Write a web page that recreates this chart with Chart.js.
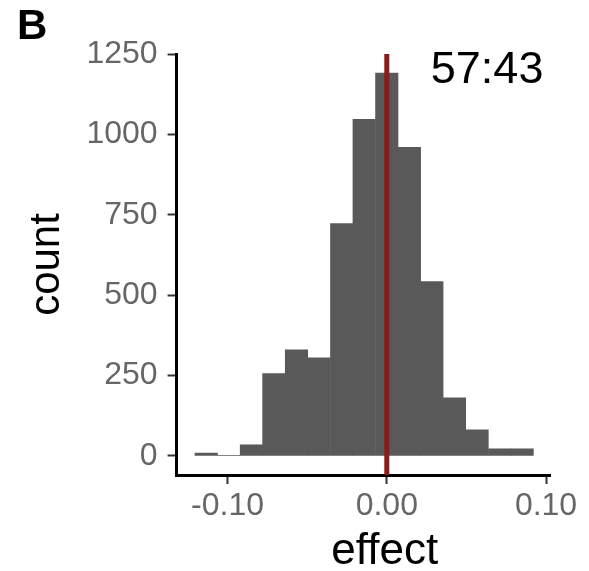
<!DOCTYPE html>
<html>
<head>
<meta charset="utf-8">
<script src="https://cdn.jsdelivr.net/npm/chart.js@4/dist/chart.umd.min.js"></script>
<style>
  body { margin: 0; background: #fff; }
  canvas { display: block; }
</style>
</head>
<body>
<canvas id="myChart" width="589" height="571"></canvas>
<script>
// histogram bins (centres) and counts
const binCenters = [-0.1134, -0.0992, -0.0850, -0.0709, -0.0567, -0.0425, -0.0283, -0.0142,
                    0, 0.0142, 0.0283, 0.0425, 0.0567, 0.0709, 0.0850];
const counts = [9, 2, 34, 256, 330, 305, 723, 1047, 1191, 960, 542, 181, 81, 22, 22];

const xTicks = [-0.10, 0.00, 0.10];
const yTicks = [0, 250, 500, 750, 1000, 1250];
const xRange = [-0.132, 0.1025];
const yRange = [-59.5, 1250.5];

const refLine = 0;            // red vertical line at effect = 0
const ratioText = '57:43';
const ratioPos = {x: 0.063, y: 1200};
const panelLetter = 'B';
const xTitle = 'effect';

Chart.defaults.font.family = '"Liberation Sans", Arial, sans-serif';

const histData = binCenters.map((x, i) => ({x: x, y: counts[i]}));

const textPlugin = {
    id: 'texts',
    afterDraw(chart) {
        const ctx = chart.ctx;
        const xs = chart.scales.x, ys = chart.scales.y;
        ctx.save();
        ctx.fillStyle = '#000';
        ctx.font = '45px "Liberation Sans", Arial, sans-serif';
        ctx.textAlign = 'center';
        ctx.textBaseline = 'middle';
        ctx.fillText(ratioText, xs.getPixelForValue(ratioPos.x), ys.getPixelForValue(ratioPos.y));
        // x axis title, sits under the 0.00 tick as in the original
        ctx.font = '44px "Liberation Sans", Arial, sans-serif';
        ctx.fillText(xTitle, xs.getPixelForValue(0) - 2, xs.bottom - 22);
        ctx.font = 'bold 42px "Liberation Sans", Arial, sans-serif';
        ctx.textAlign = 'left';
        ctx.textBaseline = 'alphabetic';
        ctx.fillText(panelLetter, 17, 39);
        ctx.restore();
    }
};

const ctx = document.getElementById('myChart').getContext('2d');
const myChart = new Chart(ctx, {
    type: 'bar',
    data: {
        datasets: [{
            type: 'line',
            data: [{x: refLine, y: yRange[0]}, {x: refLine, y: yRange[1]}],
            borderColor: '#8b1a1a',
            borderWidth: 5,
            pointRadius: 0,
            order: 0
        }, {
            type: 'bar',
            data: histData,
            backgroundColor: '#595959',
            borderWidth: 0,
            barPercentage: 1,
            categoryPercentage: 1,
            order: 1
        }]
    },
    options: {
        responsive: false,
        animation: false,
        layout: { padding: { left: 10, top: 54, right: 39, bottom: -3 } },
        plugins: { legend: { display: false }, tooltip: { enabled: false } },
        scales: {
            x: {
                type: 'linear',
                min: xRange[0],
                max: xRange[1],
                offset: false,
                afterBuildTicks: (axis) => { axis.ticks = xTicks.map(v => ({value: v})); },
                ticks: {
                    color: '#666',
                    font: { size: 32, lineHeight: 1 },
                    padding: 6,
                    maxRotation: 0,
                    callback: (v) => v.toFixed(2)
                },
                grid: { drawOnChartArea: false, offset: false, tickLength: 9, tickWidth: 2, tickColor: '#333' },
                border: { display: true, color: '#000', width: 3 },
                // keeps the room for the title; the text itself is drawn by the plugin
                title: {
                    display: true,
                    text: xTitle,
                    color: 'rgba(0,0,0,0)',
                    font: { size: 42, lineHeight: 1 },
                    padding: { top: 4, bottom: 0 }
                }
            },
            y: {
                type: 'linear',
                min: yRange[0],
                max: yRange[1],
                afterBuildTicks: (axis) => { axis.ticks = yTicks.map(v => ({value: v})); },
                ticks: {
                    color: '#666',
                    font: { size: 32, lineHeight: 1 },
                    padding: 10,
                    callback: (v) => String(v)
                },
                grid: { drawOnChartArea: false, tickLength: 9, tickWidth: 2, tickColor: '#333' },
                border: { display: true, color: '#000', width: 3 },
                title: {
                    display: true,
                    text: 'count',
                    color: '#000',
                    font: { size: 42, lineHeight: 1.2 },
                    padding: { top: 12, bottom: 4 }
                }
            }
        }
    },
    plugins: [textPlugin]
});
</script>
</body>
</html>
